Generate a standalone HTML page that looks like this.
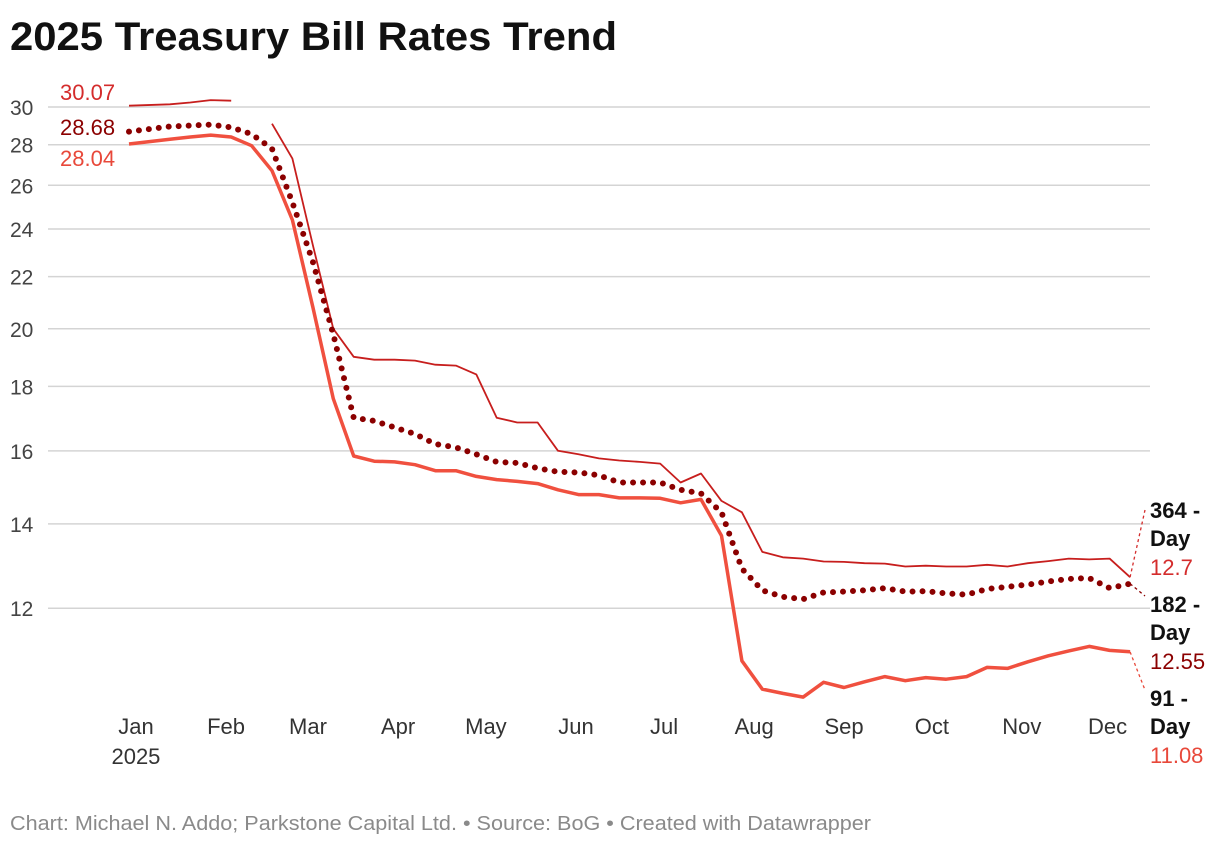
<!DOCTYPE html>
<html><head><meta charset="utf-8"><style>
body{margin:0;background:#fff;font-family:"Liberation Sans",sans-serif;}
svg text{font-family:"Liberation Sans",sans-serif;}
</style></head><body>
<svg id="chart" width="1220" height="848" xmlns="http://www.w3.org/2000/svg">
<text x="10" y="50" font-size="40" font-weight="bold" fill="#111" textLength="607" lengthAdjust="spacingAndGlyphs">2025 Treasury Bill Rates Trend</text>
<g id="grid"></g><g id="xaxis"></g><g id="series"></g><g id="labels"></g>
<text x="10" y="830" font-size="20" fill="#8a8a8a" textLength="861" lengthAdjust="spacingAndGlyphs">Chart: Michael N. Addo; Parkstone Capital Ltd. • Source: BoG • Created with Datawrapper</text>
</svg>
<script>
const weeks = [0,2,3,4,5,6,7,8,9,10,11,12,13,14,15,16,17,18,19,20,21,22,23,24,25,26,27,28,29,30,31,32,33,34,35,36,37,38,39,40,41,42,43,44,45,46,47,48,49];
const rate91 = [28.04,28.28,28.4,28.5,28.4,27.95,26.7,24.4,20.8,17.6,15.85,15.7,15.68,15.6,15.43,15.43,15.27,15.18,15.13,15.07,14.9,14.77,14.77,14.68,14.68,14.67,14.55,14.64,13.7,10.9,10.35,10.27,10.2,10.48,10.38,10.49,10.59,10.51,10.57,10.54,10.59,10.77,10.75,10.88,11.0,11.1,11.19,11.11,11.08];
const rate182 = [28.68,28.95,29.0,29.05,28.9,28.55,27.8,25.2,22.6,19.8,17.0,16.9,16.7,16.5,16.2,16.1,15.9,15.68,15.65,15.5,15.4,15.38,15.3,15.1,15.1,15.1,14.9,14.8,14.3,12.9,12.4,12.25,12.2,12.35,12.37,12.4,12.45,12.37,12.38,12.33,12.3,12.43,12.48,12.53,12.6,12.66,12.68,12.45,12.55];
const rate364 = [30.07,30.15,30.25,30.38,30.35,null,29.1,27.3,23.3,20.0,19.0,18.9,18.9,18.87,18.73,18.7,18.4,17.0,16.85,16.85,16.0,15.9,15.78,15.72,15.68,15.63,15.1,15.35,14.6,14.3,13.3,13.17,13.14,13.07,13.06,13.03,13.02,12.95,12.97,12.95,12.95,12.99,12.95,13.03,13.08,13.14,13.12,13.14,12.7];
const yTicks = [12,14,16,18,20,22,24,26,28,30];
const monthLabels = ["Jan","Feb","Mar","Apr","May","Jun","Jul","Aug","Sep","Oct","Nov","Dec"];
const monthWeeks = [0.34,4.75,8.76,13.17,17.47,21.88,26.19,30.6,35.0,39.3,43.7,47.9];

const NS="http://www.w3.org/2000/svg";
const x = w => 129 + w*20.43;
const y = v => 107 + 547*Math.log(30/v);
function mk(tag, attrs, parent, txt){const e=document.createElementNS(NS,tag);for(const k in attrs)e.setAttribute(k,attrs[k]);if(txt!==undefined)e.textContent=txt;parent.appendChild(e);return e;}
const grid=document.getElementById('grid'), xa=document.getElementById('xaxis'), ser=document.getElementById('series'), lab=document.getElementById('labels');

yTicks.forEach(t=>{
  const l=mk('line',{x1:48,x2:1150,y1:y(t),y2:y(t),stroke:'#d4d4d4','stroke-width':1.5},grid);
  
  
  const tx=mk('text',{x:10,y:y(t)+8,'font-size':21,fill:'#444'},grid,String(t));
  
  
});
monthLabels.forEach((m,i)=>{
  const tx=mk('text',{x:x(monthWeeks[i]),y:734,'font-size':22,fill:'#333','text-anchor':'middle'},xa,m);
  
  
});
const yr=mk('text',{x:x(monthWeeks[0]),y:764,'font-size':22,fill:'#333','text-anchor':'middle'},xa,'2025');



function pathFor(vals){let d='',pen=false;vals.forEach((v,i)=>{if(v==null){pen=false;return;}d+=(pen?'L':'M')+x(weeks[i]).toFixed(1)+','+y(v).toFixed(1);pen=true;});return d;}
const p364=mk('path',{d:pathFor(rate364),fill:'none',stroke:'#c71e1d','stroke-width':1.8,'stroke-linejoin':'round'},ser);


const p182=mk('path',{d:pathFor(rate182),fill:'none',stroke:'#8b0000','stroke-width':6,'stroke-linecap':'round','stroke-dasharray':'0 10'},ser);


const p91=mk('path',{d:pathFor(rate91),fill:'none',stroke:'#f0503f','stroke-width':3.5,'stroke-linejoin':'round'},ser);



const sl=[[rate364[0],'#d42c2c',92],[rate182[0],'#8b0000',127],[rate91[0],'#e8483a',158]];
sl.forEach(s=>{const t=mk('text',{x:60,y:s[2]+8,'font-size':22,fill:s[1]},lab,s[0].toFixed(2));
  
  });

const last=weeks.length-1, xe=x(weeks[last]);
const ends=[[rate364[last],'364 -','#d42c2c',510,String(rate364[last])],[rate182[last],'182 -','#8b0000',604,rate182[last].toFixed(2)],[rate91[last],'91 -','#e8483a',698,rate91[last].toFixed(2)]];
ends.forEach(e=>{
  const c=mk('line',{x1:xe,y1:y(e[0]),x2:1145,y2:e[3]+(e[3]<y(e[0])?0:-8),stroke:e[2],'stroke-width':1.3,'stroke-dasharray':'3 3'},lab);
  
  
  const a=mk('text',{x:1150,y:e[3]+8,'font-size':22,'font-weight':'bold',fill:'#111'},lab,e[1]);
  
  
  const b=mk('text',{x:1150,y:e[3]+36,'font-size':22,'font-weight':'bold',fill:'#111'},lab,'Day');
  
  
  const v=mk('text',{x:1150,y:e[3]+65,'font-size':22,fill:e[2]},lab,e[4]);
  
  
});
</script>
</body></html>
